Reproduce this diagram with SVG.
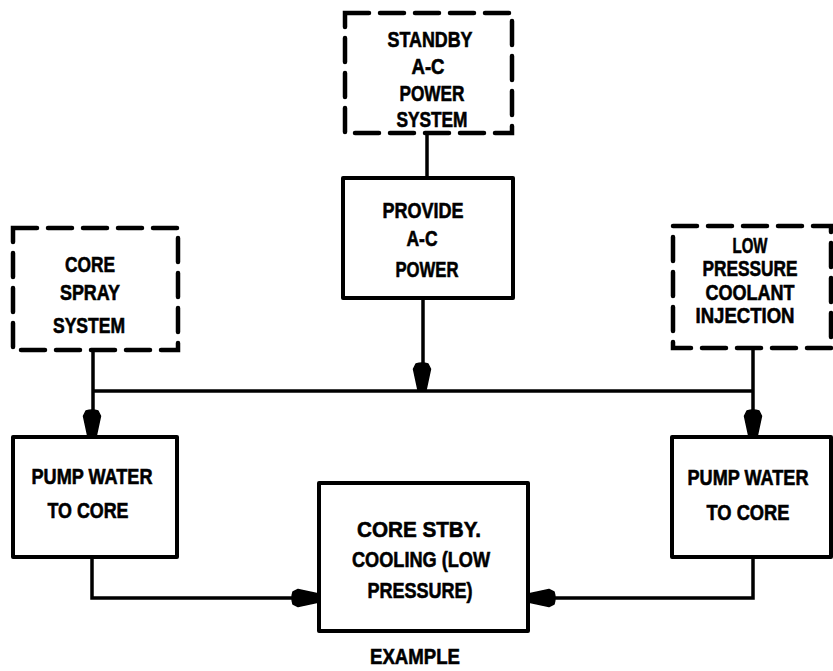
<svg xmlns="http://www.w3.org/2000/svg" width="833" height="671" viewBox="0 0 833 671">
<style>
.box{fill:#fff;stroke:#000;stroke-width:4;stroke-linejoin:round}
.dash{fill:#fff;stroke:#000;stroke-width:4.5;stroke-dasharray:24 11;stroke-linecap:round}
.wire{fill:none;stroke:#000;stroke-width:3.5}
.arr{fill:#000;stroke:#000;stroke-width:1.5;stroke-linejoin:round}
text{font-family:"Liberation Sans",Arial,sans-serif;font-weight:bold;font-size:22px;fill:#000;stroke:#000;stroke-width:0.6;text-anchor:middle}
</style>
<defs>
<path id="ah" class="arr" d="M-6,-26 Q0,-28 6,-26 L8.5,-21 L4,0 L-4,0 L-8.5,-21 Z"/>
</defs>
<rect width="833" height="671" fill="#fff"/>
<g id="connectors">
<path class="wire" d="M427,133 V178"/>
<path class="wire" d="M423,298 V390"/>
<path class="wire" d="M93,391 H753"/>
<path class="wire" d="M93,350 V437"/>
<path class="wire" d="M753,348 V437"/>
<path class="wire" d="M92,557 V598 H319"/>
<path class="wire" d="M753,557 V598 H528"/>
<use href="#ah" transform="translate(422,390)"/>
<use href="#ah" transform="translate(92,437)"/>
<use href="#ah" transform="translate(753,437)"/>
<use href="#ah" transform="translate(319,598) rotate(-90)"/>
<use href="#ah" transform="translate(528,598) rotate(90)"/>
</g>
<g id="standby">
<rect class="dash" x="345" y="13" width="167" height="120"/>
<text x="430" y="47" textLength="85" lengthAdjust="spacingAndGlyphs">STANDBY</text>
<text x="428" y="74" textLength="33" lengthAdjust="spacingAndGlyphs">A-C</text>
<text x="432" y="101" textLength="65" lengthAdjust="spacingAndGlyphs">POWER</text>
<text x="432" y="127" textLength="71" lengthAdjust="spacingAndGlyphs">SYSTEM</text>
</g>
<g id="provide">
<rect class="box" x="343" y="178" width="170" height="120"/>
<text x="423" y="218" textLength="81" lengthAdjust="spacingAndGlyphs">PROVIDE</text>
<text x="422" y="246" textLength="31" lengthAdjust="spacingAndGlyphs">A-C</text>
<text x="427" y="277" textLength="63" lengthAdjust="spacingAndGlyphs">POWER</text>
</g>
<g id="corespray">
<rect class="dash" x="13" y="228" width="165" height="122"/>
<text x="90" y="272" textLength="50" lengthAdjust="spacingAndGlyphs">CORE</text>
<text x="90" y="300" textLength="60" lengthAdjust="spacingAndGlyphs">SPRAY</text>
<text x="89" y="333" textLength="72" lengthAdjust="spacingAndGlyphs">SYSTEM</text>
</g>
<g id="lpci">
<rect class="dash" x="673" y="226" width="158" height="122"/>
<text x="750" y="253" textLength="35" lengthAdjust="spacingAndGlyphs">LOW</text>
<text x="750" y="276" textLength="95" lengthAdjust="spacingAndGlyphs">PRESSURE</text>
<text x="750" y="300" textLength="89" lengthAdjust="spacingAndGlyphs">COOLANT</text>
<text x="745" y="323" textLength="99" lengthAdjust="spacingAndGlyphs">INJECTION</text>
</g>
<g id="pumpleft">
<rect class="box" x="13" y="437" width="164" height="120"/>
<text x="92" y="484" textLength="121" lengthAdjust="spacingAndGlyphs">PUMP WATER</text>
<text x="88" y="518" textLength="81" lengthAdjust="spacingAndGlyphs">TO CORE</text>
</g>
<g id="pumpright">
<rect class="box" x="672" y="437" width="159" height="120"/>
<text x="748" y="485" textLength="121" lengthAdjust="spacingAndGlyphs">PUMP WATER</text>
<text x="748" y="520" textLength="83" lengthAdjust="spacingAndGlyphs">TO CORE</text>
</g>
<g id="corestby">
<rect class="box" x="319" y="483" width="209" height="148"/>
<text x="419" y="537" textLength="124" lengthAdjust="spacingAndGlyphs">CORE STBY.</text>
<text x="421" y="567" textLength="138" lengthAdjust="spacingAndGlyphs">COOLING (LOW</text>
<text x="420" y="598" textLength="105" lengthAdjust="spacingAndGlyphs">PRESSURE)</text>
</g>
<g id="caption">
<text x="415" y="664" textLength="90" lengthAdjust="spacingAndGlyphs">EXAMPLE</text>
</g>
</svg>
